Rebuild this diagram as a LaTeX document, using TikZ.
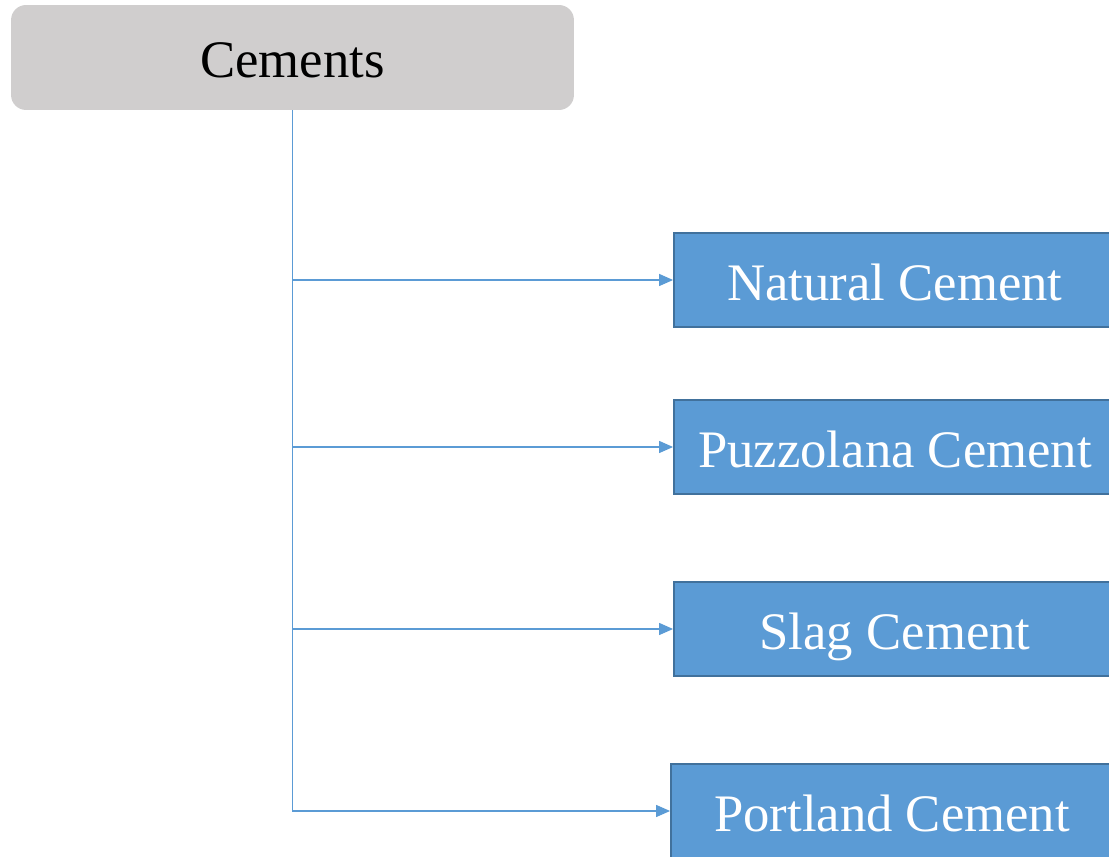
\documentclass[tikz,border=0pt]{standalone}
\usepackage{fontspec}
\setmainfont{Liberation Serif}
\usetikzlibrary{arrows.meta}
\definecolor{cemgray}{RGB}{208,206,206}
\definecolor{cemblue}{RGB}{91,155,213}
\definecolor{cemedge}{RGB}{65,113,156}

\begin{document}
\begin{tikzpicture}[x=0.02cm,y=-0.02cm]

%
% Styles
%
\tikzstyle{root} = [rectangle,rounded corners=0.3cm,fill=cemgray,minimum width=11.26cm,minimum height=2.1cm,text height=0.98cm,text depth=0.16cm,font=\fontsize{30}{36}\selectfont]
\tikzstyle{kind} = [rectangle,draw=cemedge,line width=1.1pt,fill=cemblue,text=white,minimum width=8.84cm,minimum height=1.88cm,text height=1cm,text depth=0.16cm,font=\fontsize{30}{36}\selectfont]
\tikzstyle{conn} = [draw=cemblue,line width=0.75pt,-{Triangle[length=0.28cm,width=0.24cm]}]

\useasboundingbox (0,0) rectangle (1109,857);
\clip (0,0) rectangle (1109,857);

\node[root] (cem)  at (292.5, 57.5) {Cements};
\node[kind] (nat)  at (895, 280) {Natural Cement};
\node[kind] (puz)  at (895, 447) {Puzzolana Cement};
\node[kind] (slag) at (895, 629) {Slag Cement};
\node[kind] (port) at (892, 811) {Portland Cement};

\draw[conn] (cem.south) |- (nat);
\draw[conn] (cem.south) |- (puz);
\draw[conn] (cem.south) |- (slag);
\draw[conn] (cem.south) |- (port);

\end{tikzpicture}
\end{document}
